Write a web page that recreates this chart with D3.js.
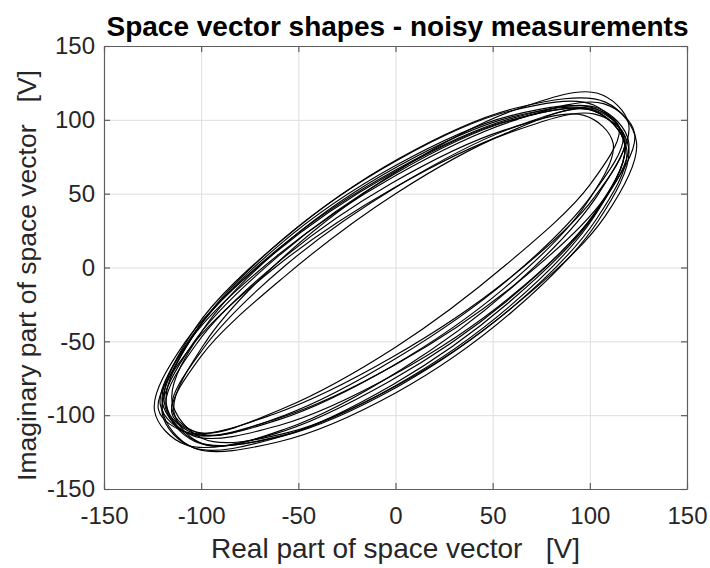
<!DOCTYPE html>
<html>
<head>
<meta charset="utf-8">
<script src="https://cdn.jsdelivr.net/npm/d3@7"></script>
<style>
  html, body { margin: 0; padding: 0; background: #fff; }
  svg { display: block; }
  text { font-family: "Liberation Sans", Arial, Helvetica, sans-serif; }
</style>
</head>
<body>
<svg id="chart" width="710" height="568"></svg>
<script>
// ---- data ----
const titleText = "Space vector shapes - noisy measurements";
const xLabelText = "Real part of space vector   [V]";
const yLabelText = "Imaginary part of space vector   [V]";
const xTicks = [-150, -100, -50, 0, 50, 100, 150];
const yTicks = [-150, -100, -50, 0, 50, 100, 150];

// each cycle of the space vector: [real, imaginary] samples around one loop
const cycle1  = [[120,85],[104,108],[60,101],[0,66],[-60,13],[-104,-45],[-120,-91],[-104,-114],[-60,-107],[0,-72],[60,-19],[104,39]];
const cycle2  = [[124,85],[108,112],[62,108],[2,74],[-58,19],[-103,-41],[-119,-91],[-103,-118],[-58,-114],[2,-80],[62,-25],[108,35]];
const cycle3  = [[112,84],[97,103],[56,93],[-2,57],[-60,4],[-102,-51],[-118,-94],[-102,-113],[-60,-103],[-2,-67],[56,-14],[97,41]];
const cycle4  = [[118,83],[102,106],[57,99],[-3,63],[-63,9],[-108,-50],[-124,-97],[-108,-120],[-63,-113],[-3,-77],[57,-23],[102,36]];
const cycle5  = [[118,84],[102,110],[59,106],[0,72],[-59,18],[-102,-42],[-118,-92],[-102,-118],[-59,-114],[0,-80],[59,-26],[102,34]];
const cycle6  = [[117,90],[101,107],[59,94],[1,55],[-57,1],[-99,-55],[-115,-96],[-99,-113],[-57,-100],[1,-61],[59,-7],[101,49]];
const cycle7  = [[123,91],[107,111],[62,100],[1,63],[-60,9],[-105,-48],[-121,-93],[-105,-113],[-60,-102],[1,-65],[62,-11],[107,46]];
const cycle8  = [[118,83],[102,106],[58,99],[-1,63],[-60,8],[-104,-51],[-120,-99],[-104,-122],[-60,-115],[-1,-79],[58,-24],[102,35]];
const cycle9  = [[119,80],[103,106],[60,102],[2,69],[-56,17],[-99,-42],[-115,-90],[-99,-116],[-56,-112],[2,-79],[60,-27],[103,32]];
const cycle10 = [[115,95],[100,108],[57,91],[0,50],[-57,-6],[-100,-60],[-115,-99],[-100,-112],[-57,-95],[0,-54],[57,2],[100,56]];
const cycle11 = [[118,88],[102,104],[58,91],[-2,53],[-62,0],[-106,-55],[-122,-96],[-106,-112],[-62,-99],[-2,-61],[58,-8],[102,47]];
const cycle12 = [[120,81],[104,107],[60,103],[0,69],[-60,15],[-104,-46],[-120,-96],[-104,-122],[-60,-118],[0,-85],[60,-30],[104,31]];
const cycle13 = [[120,97],[104,118],[62,107],[3,67],[-56,9],[-98,-51],[-114,-98],[-98,-120],[-56,-109],[3,-69],[62,-11],[104,49]];
const cycles = [cycle1, cycle2, cycle3, cycle4, cycle5, cycle6, cycle7, cycle8, cycle9, cycle10, cycle11, cycle12, cycle13];

// ---- layout ----
const svg = d3.select("#chart");
const L = 104, R = 687, T = 46, B = 489;
const W = R - L, H = B - T;

const x = d3.scaleLinear().domain([-150, 150]).range([L, R]);
const y = d3.scaleLinear().domain([-150, 150]).range([B, T]);

const axisColor = "#5e5e5e";
const textColor = "#262626";
const gridColor = "#dedede";
const fmt = d => String(d);

// grid
svg.append("g")
  .attr("transform", `translate(0,${B})`)
  .call(d3.axisBottom(x).tickValues(xTicks).tickSize(-H).tickFormat(""))
  .call(g => g.select(".domain").remove())
  .call(g => g.selectAll("line").attr("stroke", gridColor).attr("stroke-width", 1));
svg.append("g")
  .attr("transform", `translate(${L},0)`)
  .call(d3.axisLeft(y).tickValues(yTicks).tickSize(-W).tickFormat(""))
  .call(g => g.select(".domain").remove())
  .call(g => g.selectAll("line").attr("stroke", gridColor).attr("stroke-width", 1));

// curves
svg.append("clipPath").attr("id", "clip")
  .append("rect").attr("x", L).attr("y", T).attr("width", W).attr("height", H);
const line = d3.line()
  .x(d => x(d[0]))
  .y(d => y(d[1]))
  .curve(d3.curveCatmullRomClosed.alpha(0.5));
svg.append("g").attr("clip-path", "url(#clip)")
  .selectAll("path")
  .data(cycles)
  .join("path")
  .attr("d", line)
  .attr("fill", "none")
  .attr("stroke", "#000")
  .attr("stroke-width", 1.15);

// axes with inward ticks on all four sides
function styleAxis(g) {
  g.select(".domain").attr("stroke", axisColor).attr("stroke-width", 1.2);
  g.selectAll(".tick line").attr("stroke", axisColor).attr("stroke-width", 1.2);
}
svg.append("g").attr("transform", `translate(0,${B})`)
  .call(d3.axisBottom(x).tickValues(xTicks).tickSizeInner(-6).tickSizeOuter(0).tickFormat(""))
  .call(styleAxis);
svg.append("g").attr("transform", `translate(0,${T})`)
  .call(d3.axisTop(x).tickValues(xTicks).tickSizeInner(-6).tickSizeOuter(0).tickFormat(""))
  .call(styleAxis);
svg.append("g").attr("transform", `translate(${L},0)`)
  .call(d3.axisLeft(y).tickValues(yTicks).tickSizeInner(-6).tickSizeOuter(0).tickFormat(""))
  .call(styleAxis);
svg.append("g").attr("transform", `translate(${R},0)`)
  .call(d3.axisRight(y).tickValues(yTicks).tickSizeInner(-6).tickSizeOuter(0).tickFormat(""))
  .call(styleAxis);

// tick labels
const tickFont = 24;
svg.append("g").attr("transform", `translate(0,${B})`)
  .call(d3.axisBottom(x).tickValues(xTicks).tickSize(0).tickPadding(18).tickFormat(fmt))
  .call(g => g.select(".domain").remove())
  .call(g => g.selectAll("text").attr("font-size", tickFont).attr("fill", textColor)
      .attr("font-family", "'Liberation Sans', Arial, sans-serif"));
svg.append("g").attr("transform", `translate(${L},0)`)
  .call(d3.axisLeft(y).tickValues(yTicks).tickSize(0).tickPadding(9).tickFormat(fmt))
  .call(g => g.select(".domain").remove())
  .call(g => g.selectAll("text").attr("font-size", tickFont).attr("fill", textColor)
      .attr("font-family", "'Liberation Sans', Arial, sans-serif"));

// title
svg.append("text")
  .attr("x", (L + R) / 2 + 2).attr("y", 36)
  .attr("text-anchor", "middle")
  .attr("font-size", 28).attr("font-weight", "bold").attr("fill", "#000")
  .text(titleText);

// axis labels
svg.append("text")
  .attr("x", (L + R) / 2).attr("y", 558)
  .attr("text-anchor", "middle")
  .attr("font-size", 28).attr("fill", textColor)
  .style("white-space", "pre")
  .text(xLabelText);
svg.append("text")
  .attr("transform", `translate(36,${(T + B) / 2 + 8}) rotate(-90)`)
  .attr("text-anchor", "middle")
  .attr("font-size", 26.5).attr("fill", textColor)
  .style("white-space", "pre")
  .text(yLabelText);
</script>
</body>
</html>
